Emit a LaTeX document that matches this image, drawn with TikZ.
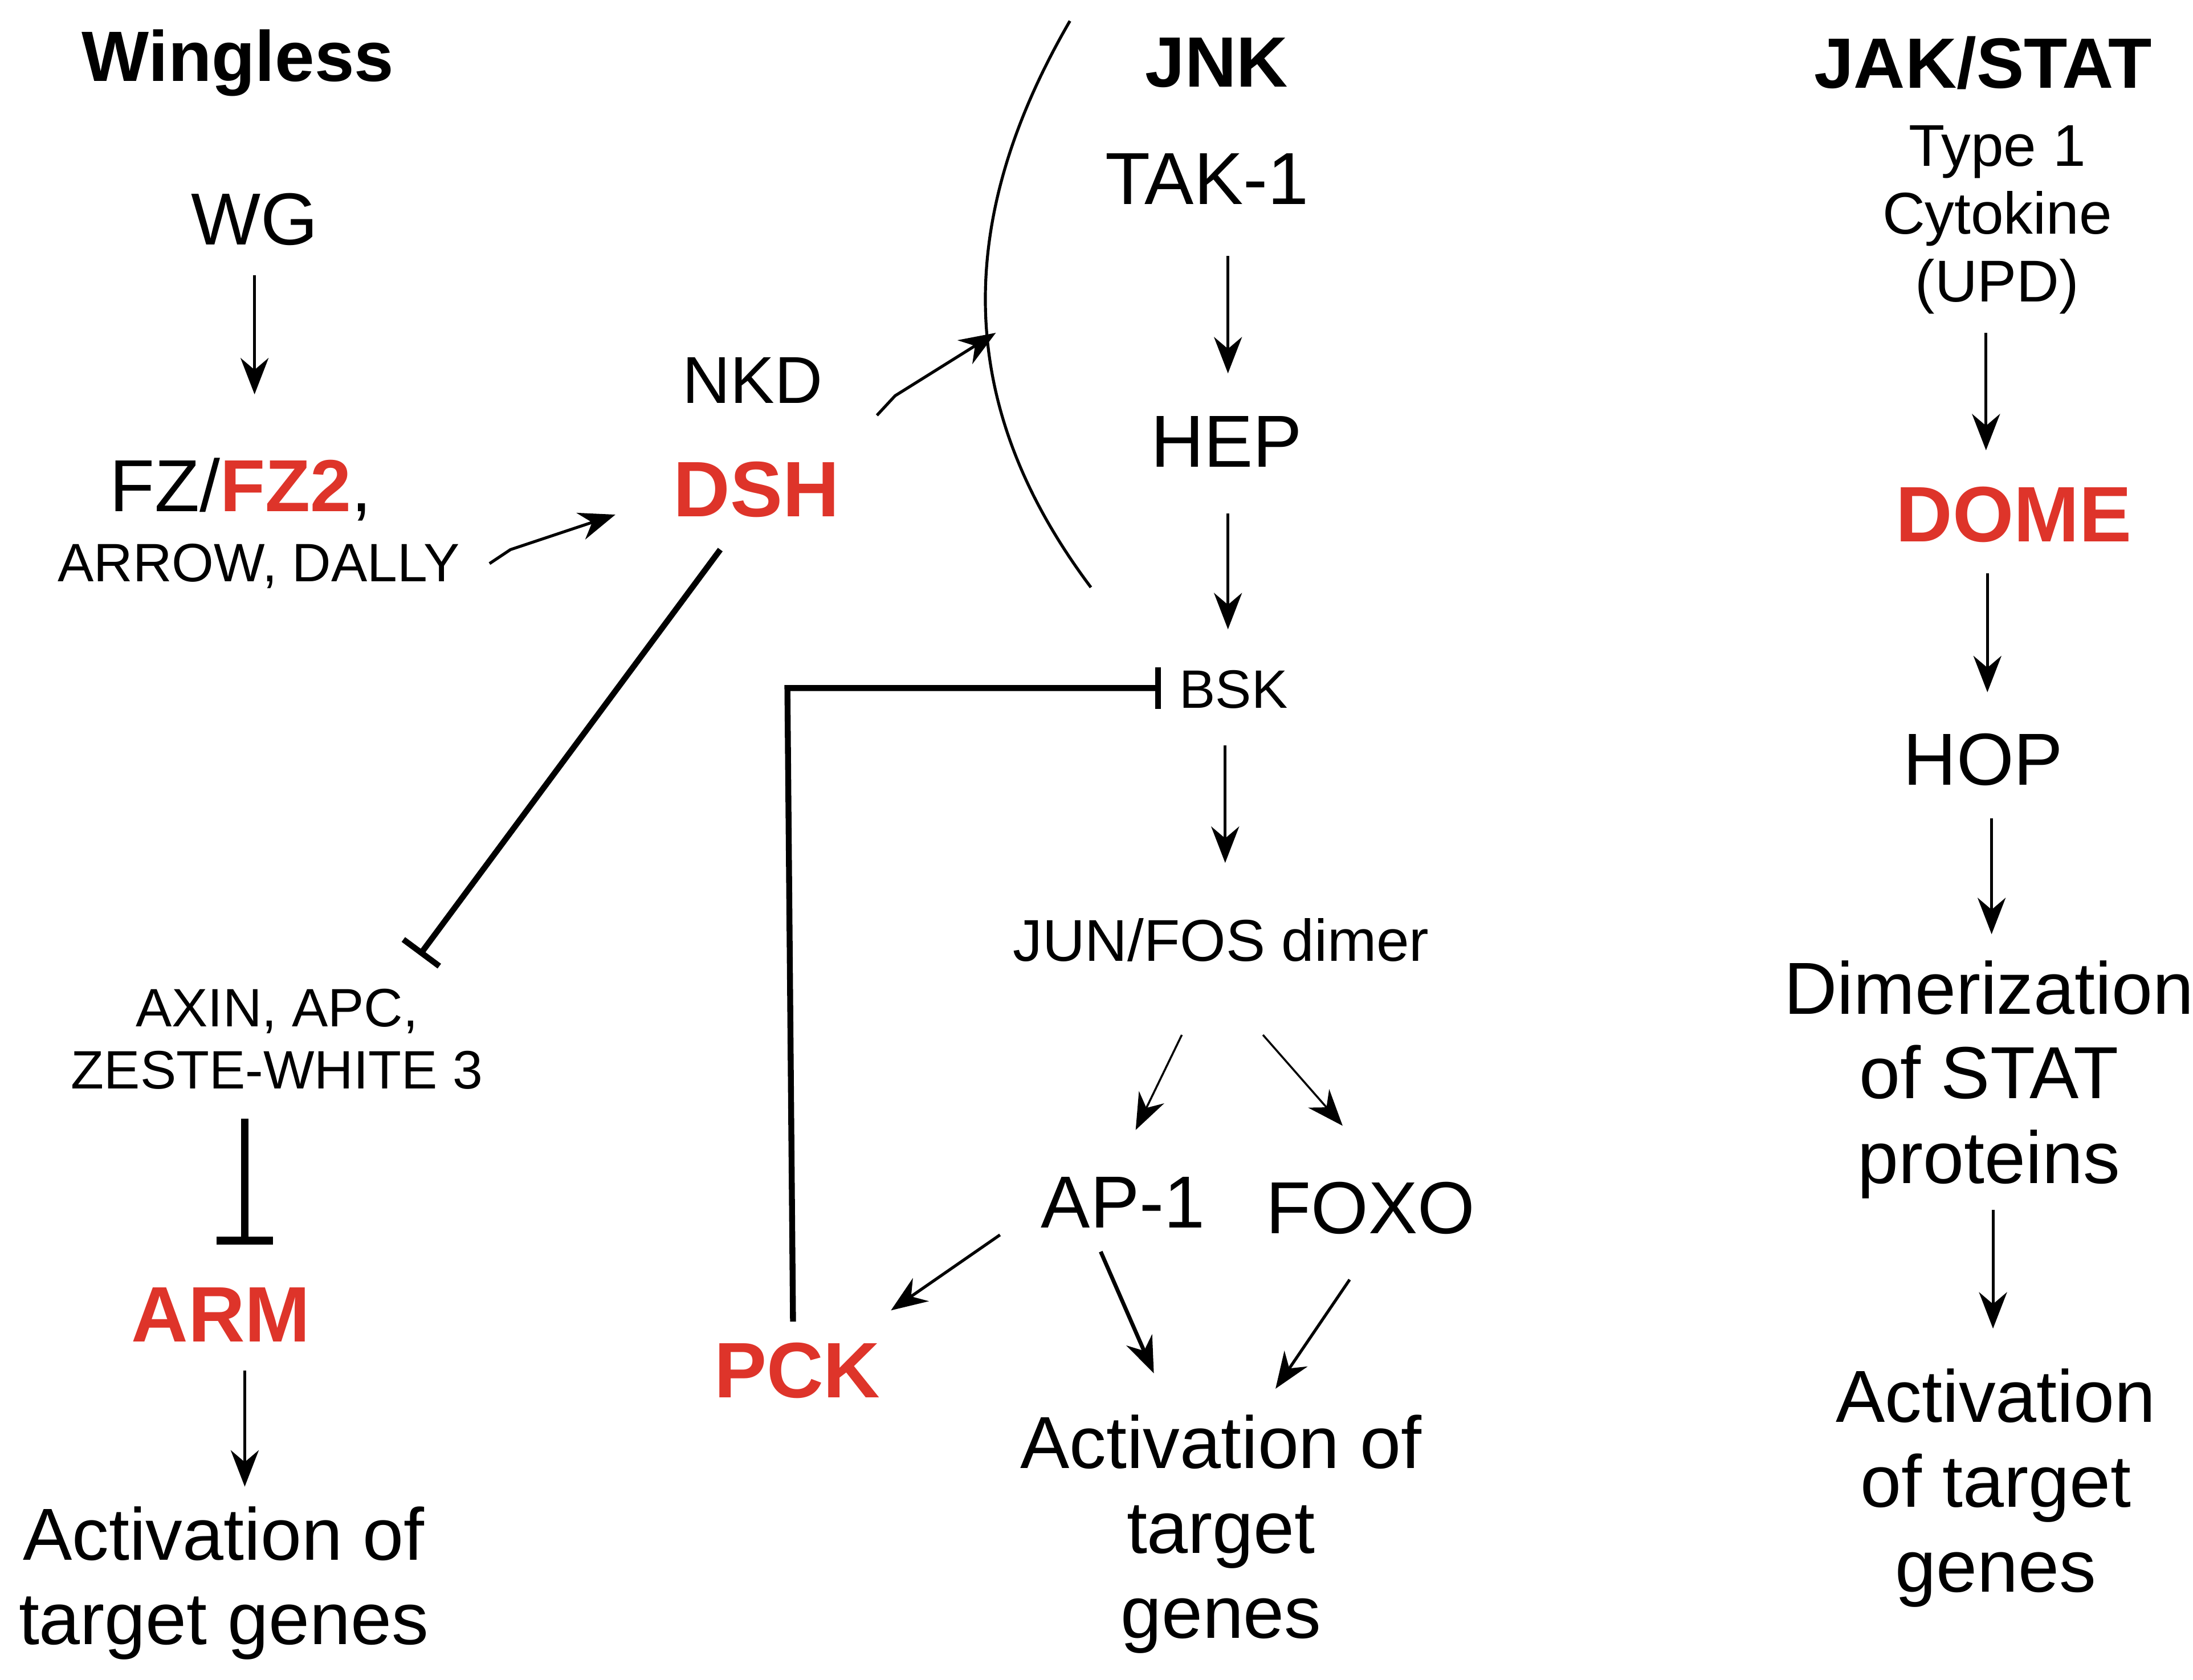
\documentclass[tikz,border=0pt]{standalone}
\usepackage{fontspec}
\setmainfont{Liberation Sans}
\usetikzlibrary{arrows.meta}
\definecolor{sigred}{RGB}{222,52,42}
\newcommand{\fs}[1]{\fontsize{#1pt}{\dimexpr #1pt*23/20\relax}\selectfont}

\begin{document}
\begin{tikzpicture}[x=0.1mm,y=-0.1mm]
\tikzstyle{title}=[font=\fs{14.5}\bfseries]
\tikzstyle{big}=[font=\fs{15}]
\tikzstyle{mid}=[font=\fs{13.5}]
\tikzstyle{small}=[font=\fs{11}]
\tikzstyle{redb}=[font=\fs{16}\bfseries,text=sigred]
\tikzstyle{act}=[-{Stealth[length=2.6mm,width=2mm]},semithick]
\tikzstyle{inh}=[-{Bar[width=3.2mm]},very thick]

\useasboundingbox (0,0) rectangle (1568,1201);

% Wingless
\node[title] (wtitle) at (170,45) {Wingless};
\node[big] (wg) at (182,157) {WG};
\node[big] (fz) at (172,350) {FZ/\textbf{\textcolor{sigred}{FZ2}},};
\node[small] (arrow) at (185,405) {ARROW, DALLY};
\node[small,align=center] (axin) at (198,743) {AXIN, APC,\\ZESTE-WHITE 3};
\node[redb] (arm) at (158,940) {ARM};
\node[big,align=center] (wact) at (160,1132) {Activation of\\target genes};

\draw[act] (182,197) -- (182,282);
\draw[act] (350,403) -- (365,393) -- (440,368);
\draw[inh] (515,393) -- (300,683);
\draw[-{Bar[width=4mm]},line width=1.6pt] (175,800) -- (175,890);
\draw[act] (175,980) -- (175,1063);

% NKD / DSH
\node[mid] (nkd) at (538,272) {NKD};
\node[redb] (dsh) at (541,350) {DSH};
\draw[act] (627,297) -- (640,283) -- (712,238);
\draw[semithick] (765,15) .. controls (675,170) and (690,300) .. (780,420);

% JNK
\node[title] (jtitle) at (870,45) {JNK};
\node[big] (tak) at (863,128) {TAK-1};
\node[big] (hep) at (877,316) {HEP};
\node[small] (bsk) at (882,493) {BSK};
\node[font=\fs{12}] (jun) at (873,672) {JUN/FOS dimer};
\node[big] (ap1) at (803,860) {AP-1};
\node[big] (foxo) at (980,864) {FOXO};
\node[redb] (pck) at (570,980) {PCK};
\node[big,align=center] (jact) at (873,1097) {Activation of\\target\\genes};

\draw[act] (878,183) -- (878,267);
\draw[act] (878,367) -- (878,450);
\draw[act] (876,533) -- (876,617);
\draw[act,thin] (845,740) -- (812,808);
\draw[act,thin] (903,740) -- (960,805);
\draw[act] (715,883) -- (637,937);
\draw[act,thick] (787,895) -- (825,982);
\draw[act] (965,915) -- (912,993);
\draw[-{Bar[width=3mm]},very thick] (567,945) -- (563,492) -- (830,492);

% JAK/STAT
\node[title] (stitle) at (1418,45) {JAK/STAT};
\node[font=\fs{12},align=center] (upd) at (1428,157) {Type 1\\Cytokine\\(UPD)};
\node[redb] (dome) at (1440,368) {DOME};
\node[big] (hop) at (1418,543) {HOP};
\node[big,align=center] (dim) at (1422,772) {Dimerization\\of STAT\\proteins};
\node[big,align=center] (sact) at (1427,1064) {Activation\\of target\\genes};

\draw[act] (1420,238) -- (1420,322);
\draw[act] (1421,410) -- (1421,495);
\draw[act] (1424,585) -- (1424,668);
\draw[act] (1425,865) -- (1425,950);
\end{tikzpicture}
\end{document}
